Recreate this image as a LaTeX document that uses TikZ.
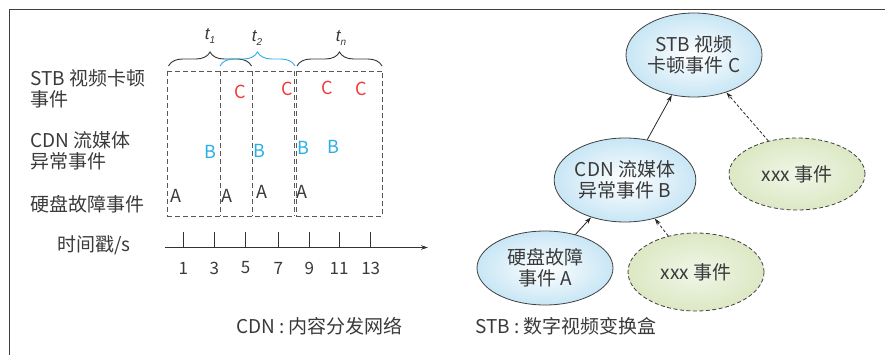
\documentclass[tikz,border=0pt]{standalone}
\usepackage{fontspec}
\setmainfont{Noto Sans CJK SC}
\newfontfamily\tfont{Liberation Sans}
\usetikzlibrary{shapes.geometric,arrows.meta,decorations.pathreplacing}
\definecolor{txt}{HTML}{3A3A3A}
\definecolor{evred}{HTML}{EE3B3B}
\definecolor{evblue}{HTML}{2AAEE6}
\definecolor{bluefill}{HTML}{C8E6F5}
\definecolor{greenfill}{HTML}{DCE8C4}
\tikzset{
  lbl/.style={text=txt,font=\fontsize{19}{21}\selectfont,inner sep=0pt},
  ev/.style={font=\fontsize{18}{20}\selectfont,inner sep=0pt},
  evC/.style={ev,text=evred},
  evB/.style={ev,text=evblue},
  evA/.style={ev,text=txt},
  num/.style={text=txt,font=\fontsize{17}{19}\selectfont,inner sep=0pt},
  tlab/.style={text=txt,font=\fontsize{17}{19}\selectfont\tfont\itshape,inner sep=0pt},
  win/.style={draw=black!65,dashed,dash pattern=on 5pt off 3pt,line width=0.9pt},
  brc/.style={decorate,decoration={brace,amplitude=14pt},line width=0.9pt},
  evnode/.style={ellipse,draw=black!75,line width=0.8pt,inner sep=0pt,align=center,
    text=txt,font=\fontsize{19}{21}\selectfont,minimum width=136pt,
    inner color=white,outer color=bluefill},
  xnode/.style={evnode,dashed,dash pattern=on 4pt off 2.5pt,inner color=greenfill!40,outer color=greenfill},
  solidarr/.style={-{Stealth[length=7pt,width=4.5pt]},line width=0.8pt,draw=black!85},
  dasharr/.style={solidarr,dashed,dash pattern=on 3pt off 2pt},
}
\begin{document}
\begin{tikzpicture}[x=1pt,y=-1pt]
\useasboundingbox (0,0) rectangle (885,355);
% frame
\draw[line width=1.4pt,draw=black!75] (9.5,355) -- (9.5,9.5) -- (885,9.5);

% left labels
\node[lbl,anchor=west,align=left] (lc) at (30,89) {STB 视频卡顿\\事件};
\node[lbl,anchor=west,align=left] (lb) at (30,151) {CDN 流媒体\\异常事件};
\node[lbl,anchor=west] (la) at (30,204) {硬盘故障事件};

% windows (t1: 167-252, t2: 220-294, tn: 296.5-382)
\draw[win] (167,71) -- (294,71);
\draw[win] (167,216) -- (294,216);
\foreach \x in {167,220,252,294}{\draw[win] (\x,71) -- (\x,216);}
\draw[win] (296.5,71) rectangle (382,216);

% braces
\draw[brc,draw=black!80] (168.5,66) -- (251.5,66);
\draw[brc,draw=evblue] (220,66) -- (295,66);
\draw[brc,draw=black!80] (297,66) -- (382,66);
\node[tlab] (t1) at (210,36) {t\raisebox{-0.35ex}{\fontsize{10}{10}\selectfont 1}};
\node[tlab] (t2) at (257,38) {t\raisebox{-0.35ex}{\fontsize{10}{10}\selectfont 2}};
\node[tlab] (tn) at (341,38) {t\raisebox{-0.35ex}{\fontsize{10}{10}\selectfont n}};

% events
\node[evC] (c1) at (240,91.5) {C};
\node[evC] (c2) at (287,89) {C};
\node[evC] (c3) at (327,88) {C};
\node[evC] (c4) at (361,89) {C};
\node[evB] (b1) at (210,152) {B};
\node[evB] (b2) at (259,151) {B};
\node[evB] (b3) at (303,148) {B};
\node[evB] (b4) at (333,147) {B};
\node[evA] (a1) at (176,195.5) {A};
\node[evA] (a2) at (227,195.5) {A};
\node[evA] (a3) at (262,192) {A};
\node[evA] (a4) at (302,192) {A};

% time axis
\coordinate (ax0) at (165,247.5);
\coordinate (ax1) at (428,247.5);
\draw[-{Stealth[length=7pt,width=4.5pt]},line width=0.8pt,draw=black!80] (ax0) -- (ax1);
\foreach \x/\n in {183.3/1,214.3/3,245.7/5,278.3/7,309.3/9,339/11,370.7/13}{
  \draw[line width=0.8pt,draw=black!80] (\x,232.5) -- (\x,247.5);
  \node[num] at (\x,268) {\n};
}
\node[lbl,anchor=west] (ts) at (57,245) {时间戳/s};

% right graph
\node[evnode,minimum height=84pt] (C) at (694,55) {STB 视频\\卡顿事件 C};
\node[evnode,minimum height=84pt] (B) at (625,180) {CDN 流媒体\\异常事件 B};
\node[evnode,minimum height=74pt] (A) at (545,268) {硬盘故障\\事件 A};
\node[xnode,minimum height=72pt] (X1) at (797,174) {xxx 事件};
\node[xnode,minimum height=78pt] (X2) at (696,272) {xxx 事件};
\draw[solidarr] (B) -- (C);
\draw[solidarr] (A) -- (B);
\draw[dasharr] (X2) -- (B);
\draw[dasharr] (X1) -- (C);

% footnotes
\node[lbl,anchor=west] (n1) at (236,326) {CDN : 内容分发网络};
\node[lbl,anchor=west] (n2) at (475,326) {STB : 数字视频变换盒};
\end{tikzpicture}
\end{document}
